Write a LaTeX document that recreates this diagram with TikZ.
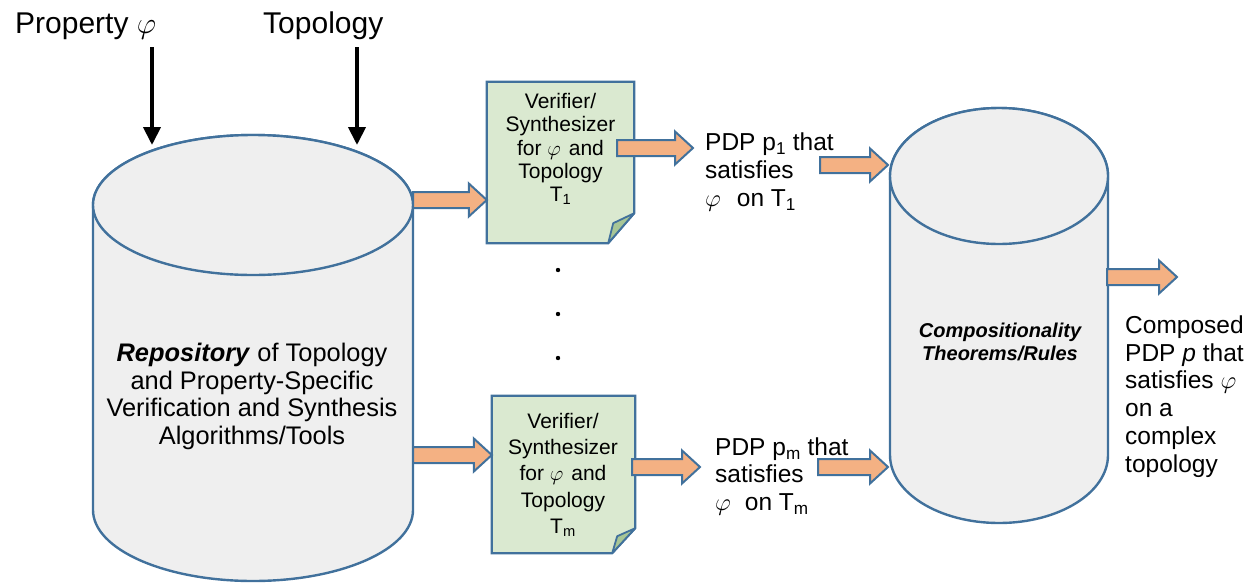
\documentclass[tikz,border=0pt]{standalone}
\usepackage{fix-cm}
\usepackage{fontspec}
\setmainfont{Liberation Sans}
\usetikzlibrary{arrows.meta,calc}
\definecolor{bord}{RGB}{65,113,156}
\definecolor{cylfill}{RGB}{239,239,239}
\definecolor{docfill}{RGB}{218,233,208}
\definecolor{foldfill}{RGB}{168,198,150}
\definecolor{orng}{RGB}{244,177,131}
\tikzset{
  cylst/.style={draw=bord,fill=cylfill,line width=2.4pt},
  docst/.style={draw=bord,fill=docfill,line width=2.2pt,line join=miter},
  foldst/.style={draw=bord,fill=foldfill,line width=1.8pt,line join=round},
  barrowst/.style={draw=bord,fill=orng,line width=2pt,line join=miter},
  blk/.style={line width=4pt,-{Triangle[width=17pt,length=18pt]}},
  lbl/.style={inner sep=0pt,font=\fontsize{30}{34}\selectfont},
  doctxt/.style={inner sep=0pt,align=center},
  pdptxt/.style={inner sep=0pt,align=left},
  docbox/.style={inner sep=0pt,draw=none}
}
\newcommand\blockarrow[2]{%
  \draw[barrowst] let \p1=#1, \p2=#2 in
    (\x1,\y1+8pt) -- (\x2-18pt,\y1+8pt) -- (\x2-18pt,\y1+16.5pt) -- (\x2,\y1)
    -- (\x2-18pt,\y1-16.5pt) -- (\x2-18pt,\y1-8pt) -- (\x1,\y1-8pt) -- cycle;}
\begin{document}
\begin{tikzpicture}[x=1pt,y=-1pt]
\useasboundingbox (0,0) rectangle (1250,582);

% top labels
\node[lbl,anchor=base west] (prop) at (15,33.3) {Property $\varphi$};
\node[lbl,anchor=base west] (topo) at (263,33.3) {Topology};

% repository cylinder
\path[cylst] (93,205) -- (93,510) arc[start angle=180,end angle=360,x radius=160pt,y radius=71pt]
  -- (413,205) arc[start angle=0,end angle=180,x radius=160pt,y radius=70pt] -- cycle;
\draw[cylst] (253,205) ellipse[x radius=160pt,y radius=70pt];
\node[inner sep=0pt,align=center,anchor=north,font=\fontsize{25.4}{27.5}\selectfont] (repo) at (252,343.2)
  {\textbf{\textit{Repository}} of Topology\\and Property-Specific\\Verification and Synthesis\\Algorithms/Tools};

% input arrows
\coordinate (pA) at (152,47);
\coordinate (cA) at (152,145);
\coordinate (pB) at (357,47);
\coordinate (cB) at (357,145);
\draw[blk] (pA) -- (cA);
\draw[blk] (pB) -- (cB);

% compositionality cylinder
\path[cylst] (890,176) -- (890,455) arc[start angle=180,end angle=360,x radius=109pt,y radius=68pt]
  -- (1108,176) arc[start angle=0,end angle=180,x radius=109pt,y radius=68pt] -- cycle;
\draw[cylst] (999,176) ellipse[x radius=109pt,y radius=68pt];
\node[inner sep=0pt,align=center,anchor=north,font=\fontsize{20}{23.5}\selectfont\bfseries\itshape] (comp) at (1000,322.5)
  {Compositionality\\Theorems/Rules};

% document 1
\node[docbox,minimum width=147pt,minimum height=161pt] (d1) at (560.5,162.5) {};
\draw[docst] (d1.north west) -- (d1.north east) -- ([yshift=30pt]d1.south east)
  -- ([xshift=-26pt]d1.south east) -- (d1.south west) -- cycle;
\draw[foldst] ([yshift=30pt]d1.south east) -- ([xshift=-21pt,yshift=20pt]d1.south east)
  -- ([xshift=-26pt]d1.south east) -- cycle;
\node[doctxt,anchor=north,font=\fontsize{21}{23.3}\selectfont] (d1t) at (560.5,93)
  {Verifier/\\Synthesizer\\for $\varphi$\hspace{8pt}and\\Topology\\T\textsubscript{1}};

% document 2
\node[docbox,minimum width=143pt,minimum height=157pt] (d2) at (563.5,474.5) {};
\draw[docst] (d2.north west) -- (d2.north east) -- ([yshift=25pt]d2.south east)
  -- ([xshift=-23pt]d2.south east) -- (d2.south west) -- cycle;
\draw[foldst] ([yshift=25pt]d2.south east) -- ([xshift=-18pt,yshift=17pt]d2.south east)
  -- ([xshift=-23pt]d2.south east) -- cycle;
\node[doctxt,anchor=north,font=\fontsize{21}{26.25}\selectfont] (d2t) at (563,413)
  {Verifier/\\Synthesizer\\for $\varphi$\hspace{8pt}and\\Topology\\T\textsubscript{m}};

% dots
\fill (558,270) circle[radius=2.2pt];
\fill (558,314) circle[radius=2.2pt];
\fill (558,358) circle[radius=2.2pt];

% PDP texts
\node[pdptxt,anchor=north west,font=\fontsize{24.5}{28}\selectfont] (p1) at (705,132.4)
  {PDP p\textsubscript{1} that\\satisfies\\$\varphi$\hspace{16pt}on T\textsubscript{1}};
\node[pdptxt,anchor=north west,font=\fontsize{24.5}{27.5}\selectfont] (pm) at (715,437.4)
  {PDP p\textsubscript{m} that\\satisfies\\$\varphi$\hspace{14pt}on T\textsubscript{m}};
\node[pdptxt,anchor=north west,font=\fontsize{24.5}{27.8}\selectfont] (res) at (1125,315.4)
  {Composed\\PDP \textit{p} that\\satisfies $\varphi$\\on a\\complex\\topology};

% block arrows
\coordinate (r1) at (413,200);
\coordinate (r2) at (413,455);
\coordinate (o1) at (617,148);
\coordinate (o2) at (632,467);
\coordinate (q1) at (820,165);
\coordinate (c1) at (888,165);
\coordinate (q2) at (818,467);
\coordinate (c2) at (888,467);
\coordinate (cOut) at (1107,277);
\coordinate (fin) at (1177,277);
\blockarrow{(r1)}{(d1.west |- r1)}
\blockarrow{(r2)}{(d2.west |- r2)}
\blockarrow{(o1)}{([xshift=-12pt]p1.west |- o1)}
\blockarrow{(o2)}{([xshift=-15pt]pm.west |- o2)}
\blockarrow{(q1)}{(c1)}
\blockarrow{(q2)}{(c2)}
\blockarrow{(cOut)}{(fin)}
\end{tikzpicture}
\end{document}
